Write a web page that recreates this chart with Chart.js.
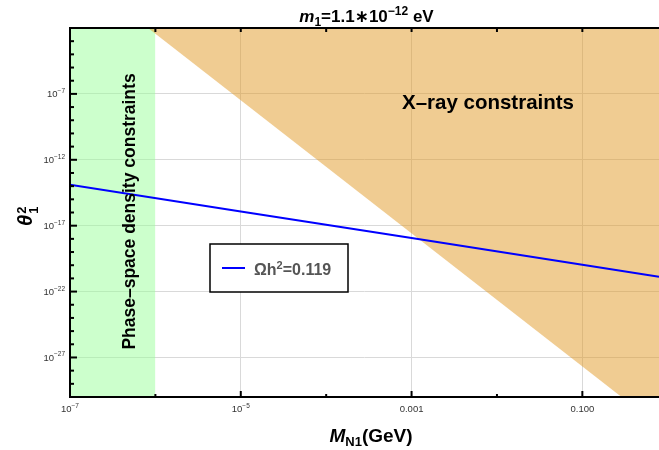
<!DOCTYPE html>
<html>
<head>
<meta charset="utf-8">
<script src="https://cdn.jsdelivr.net/npm/chart.js@4.4.1/dist/chart.umd.min.js"></script>
<style>
    html, body { margin: 0; padding: 0; background: #fff; }
    #wrap { width: 659px; height: 450px; }
</style>
</head>
<body>
<div id="wrap"><canvas id="chart" width="659" height="450"></canvas></div>
<script>
// Axis ranges
const xMin = 1e-7, xMax = 0.79;
const yMin = 1e-30, yMax = 1e-2;

// Tick labels
const xTickValues = [1e-7, 1e-5, 1e-3, 1e-1];
const xTickLabels = ['10^-7', '10^-5', '0.001', '0.100'];
const yTickValues = [1e-7, 1e-12, 1e-17, 1e-22, 1e-27];
const yTickLabels = ['10^-7', '10^-12', '10^-17', '10^-22', '10^-27'];

// Relic abundance curve (Omega h^2 = 0.119)
const relicMass = [1e-7, 1e-5, 1e-3, 1e-1, 0.79];
const relicTheta = [1.26e-14, 1.2e-16, 1.15e-18, 1.07e-20, 1.35e-21];

// X-ray constraint boundary (region above is excluded)
const xrayMass = [8.2e-7, 0.288, 0.79];
const xrayTheta = [1e-2, 1e-30, 1e-30];

// Phase-space density bound (M below 1e-6 GeV excluded)
const psMass = [1e-7, 1e-6];
const psTheta = [1e-2, 1e-2];

const FONT = '"Liberation Sans", Arial, "DejaVu Sans", sans-serif';
const toPoints = (xs, ys) => xs.map((v, i) => ({ x: v, y: ys[i] }));
const exp10 = v => Math.round(Math.log10(v));

// Draw a run of text pieces with their own font and vertical shift
function drawRich(ctx, parts, x, y, align) {
    let total = 0;
    parts.forEach(p => {
        ctx.font = p.font;
        p.w = ctx.measureText(p.t).width;
        total += p.w;
    });
    let cx = align === 'center' ? x - total / 2 : align === 'right' ? x - total : x;
    parts.forEach(p => {
        ctx.font = p.font;
        ctx.fillStyle = p.color || '#000';
        ctx.fillText(p.t, cx, y + (p.dy || 0));
        cx += p.w;
    });
}

function tickParts(label) {
    if (label.startsWith('10^')) {
        return [
            { t: '10', font: '9.5px ' + FONT, color: '#333' },
            { t: label.slice(3).replace('-', '\u2212'), font: '6.5px ' + FONT, color: '#333', dy: -4.5 }
        ];
    }
    return [{ t: label, font: '9.5px ' + FONT, color: '#333' }];
}

const decorations = {
    id: 'decorations',
    afterDatasetsDraw(chart) {
        const { ctx, chartArea: a, scales: { x, y } } = chart;
        ctx.save();
        ctx.textAlign = 'left';
        ctx.textBaseline = 'alphabetic';

        // inward tick marks
        ctx.strokeStyle = '#000';
        ctx.lineWidth = 2;
        const seg = (x1, y1, x2, y2) => { ctx.beginPath(); ctx.moveTo(x1, y1); ctx.lineTo(x2, y2); ctx.stroke(); };
        const yMajor = yTickValues.map(exp10);
        for (let e = exp10(yMin) + 1; e < exp10(yMax); e++) {
            const py = y.getPixelForValue(Math.pow(10, e));
            seg(a.left, py, a.left + (yMajor.includes(e) ? 7 : 4), py);
        }
        const xMajor = xTickValues.map(exp10);
        for (let e = exp10(xMin) + 1; Math.pow(10, e) <= xMax; e++) {
            const px = x.getPixelForValue(Math.pow(10, e));
            seg(px, a.bottom, px, a.bottom - (xMajor.includes(e) ? 6 : 3));
            seg(px, a.top, px, a.top + 4);
        }

        // frame: left, bottom, top
        seg(a.left, a.top, a.left, a.bottom + 1);
        seg(a.left - 1, a.bottom, a.right, a.bottom);
        seg(a.left - 1, a.top, a.right, a.top);

        // tick labels
        yTickValues.forEach((v, i) => {
            drawRich(ctx, tickParts(yTickLabels[i]), a.left - 5, y.getPixelForValue(v) + 3.5, 'right');
        });
        xTickValues.forEach((v, i) => {
            drawRich(ctx, tickParts(xTickLabels[i]), x.getPixelForValue(v), a.bottom + 15, 'center');
        });

        // title
        drawRich(ctx, [
            { t: 'm', font: 'italic bold 17px ' + FONT },
            { t: '1', font: 'bold 12px ' + FONT, dy: 4 },
            { t: '=1.1\u221710', font: 'bold 17px ' + FONT },
            { t: '\u221212', font: 'bold 12px ' + FONT, dy: -7 },
            { t: ' eV', font: 'bold 17px ' + FONT }
        ], 366.5, 22, 'center');

        // x axis title
        drawRich(ctx, [
            { t: 'M', font: 'italic bold 19px ' + FONT },
            { t: 'N1', font: 'bold 13px ' + FONT, dy: 4 },
            { t: '(GeV)', font: 'bold 19px ' + FONT }
        ], 371, 442, 'center');

        // y axis title: theta_1^2, rotated
        ctx.save();
        ctx.translate(32, 226);
        ctx.rotate(-Math.PI / 2);
        ctx.fillStyle = '#000';
        ctx.font = 'italic bold 20px ' + FONT;
        const tw = ctx.measureText('\u03b8').width;
        ctx.fillText('\u03b8', 0, 0);
        ctx.font = 'bold 13px ' + FONT;
        ctx.fillText('1', tw + 1, 6);
        ctx.fillText('2', tw + 1, -6);
        ctx.restore();

        // region labels
        ctx.save();
        ctx.translate(135, 211.5);
        ctx.rotate(-Math.PI / 2);
        ctx.textAlign = 'center';
        ctx.fillStyle = '#000';
        ctx.font = 'bold 17.5px ' + FONT;
        ctx.fillText('Phase\u2013space density constraints', 0, 0);
        ctx.restore();

        ctx.textAlign = 'center';
        ctx.fillStyle = '#000';
        ctx.font = 'bold 20.5px ' + FONT;
        ctx.fillText('X\u2013ray constraints', 488, 109);
        ctx.textAlign = 'left';

        // legend box
        ctx.fillStyle = '#fff';
        ctx.fillRect(210, 244, 138, 48);
        ctx.strokeStyle = '#000';
        ctx.lineWidth = 1.5;
        ctx.strokeRect(210, 244, 138, 48);
        ctx.strokeStyle = '#0000ff';
        ctx.lineWidth = 2;
        seg(222, 268, 245, 268);
        drawRich(ctx, [
            { t: '\u03a9h', font: 'bold 16px ' + FONT, color: '#555' },
            { t: '2', font: 'bold 11px ' + FONT, color: '#555', dy: -6 },
            { t: '=0.119', font: 'bold 16px ' + FONT, color: '#555' }
        ], 254, 275, 'left');

        ctx.restore();
    }
};

const gridFor = values => ctx => values.map(exp10).includes(exp10(ctx.tick.value)) ? '#d9d9d9' : 'rgba(0,0,0,0)';

new Chart(document.getElementById('chart'), {
    type: 'line',
    data: {
        datasets: [
            {
                label: '\u03a9h\u00b2=0.119',
                data: toPoints(relicMass, relicTheta),
                borderColor: '#0000ff',
                borderWidth: 2,
                pointRadius: 0,
                fill: false,
                order: 0
            },
            {
                label: 'X-ray constraints',
                data: toPoints(xrayMass, xrayTheta),
                borderWidth: 0,
                borderColor: 'rgba(0,0,0,0)',
                backgroundColor: 'rgba(225,153,37,0.5)',
                pointRadius: 0,
                fill: 'end',
                order: 1
            },
            {
                label: 'Phase-space density constraints',
                data: toPoints(psMass, psTheta),
                borderWidth: 0,
                borderColor: 'rgba(0,0,0,0)',
                backgroundColor: 'rgba(153,255,153,0.5)',
                pointRadius: 0,
                fill: 'start',
                order: 2
            }
        ]
    },
    options: {
        responsive: false,
        animation: false,
        layout: { padding: { top: 28, left: 0, right: 0, bottom: 0 } },
        plugins: { legend: { display: false }, tooltip: { enabled: false } },
        scales: {
            x: {
                type: 'logarithmic',
                min: xMin,
                max: xMax,
                afterBuildTicks: s => { s.ticks = xTickValues.slice(1).map(v => ({ value: v })); },
                afterFit: s => { s.height = 53; },
                ticks: { display: false },
                grid: { color: gridFor(xTickValues), drawTicks: false, lineWidth: 1 },
                border: { display: false }
            },
            y: {
                type: 'logarithmic',
                min: yMin,
                max: yMax,
                afterBuildTicks: s => { s.ticks = yTickValues.map(v => ({ value: v })); },
                afterFit: s => { s.width = 70; },
                ticks: { display: false },
                grid: { color: gridFor(yTickValues), drawTicks: false, lineWidth: 1 },
                border: { display: false }
            }
        }
    },
    plugins: [decorations]
});
</script>
</body>
</html>
